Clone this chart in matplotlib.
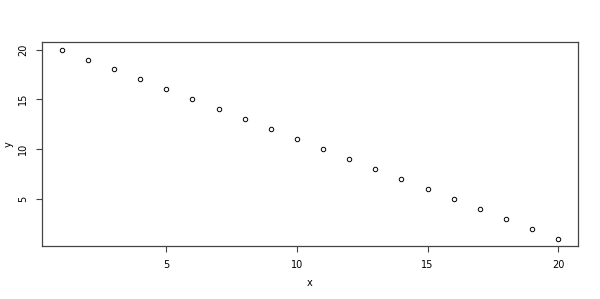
import matplotlib
matplotlib.use("Agg")
import matplotlib.pyplot as plt
import numpy as np

# Daten
x_vals = list(range(1, 21))
y_vals = list(range(20, 0, -1))
x_ticks = [5, 10, 15, 20]
y_ticks = [5, 10, 15, 20]

fig = plt.figure(figsize=(6.0, 2.99), dpi=100)
ax = fig.add_axes([0.07, 0.177, 0.8933, 0.6825])

ax.plot(x_vals, y_vals, linestyle='none', marker='o', markersize=3.2,
        markerfacecolor='none', markeredgecolor='black', markeredgewidth=0.7)

# R-Stil: 4% Rand
xr = max(x_vals) - min(x_vals)
yr = max(y_vals) - min(y_vals)
ax.set_xlim(min(x_vals) - 0.04 * xr, max(x_vals) + 0.04 * xr)
ax.set_ylim(min(y_vals) - 0.04 * yr, max(y_vals) + 0.04 * yr)

ax.set_xticks(x_ticks)
ax.set_yticks(y_ticks)
ax.tick_params(labelsize=7, length=4, width=0.8, color='#444444', pad=6)
for lab in ax.get_yticklabels():
    lab.set_rotation(90)
    lab.set_va('center')
for s in ax.spines.values():
    s.set_linewidth(0.9)
    s.set_color('#444444')

ax.set_xlabel('x', fontsize=7)
ax.set_ylabel('y', fontsize=7)
ax.xaxis.set_label_coords(0.5, -0.155)
ax.yaxis.set_label_coords(-0.052, 0.5)

fig.savefig('out.png', dpi=100)
